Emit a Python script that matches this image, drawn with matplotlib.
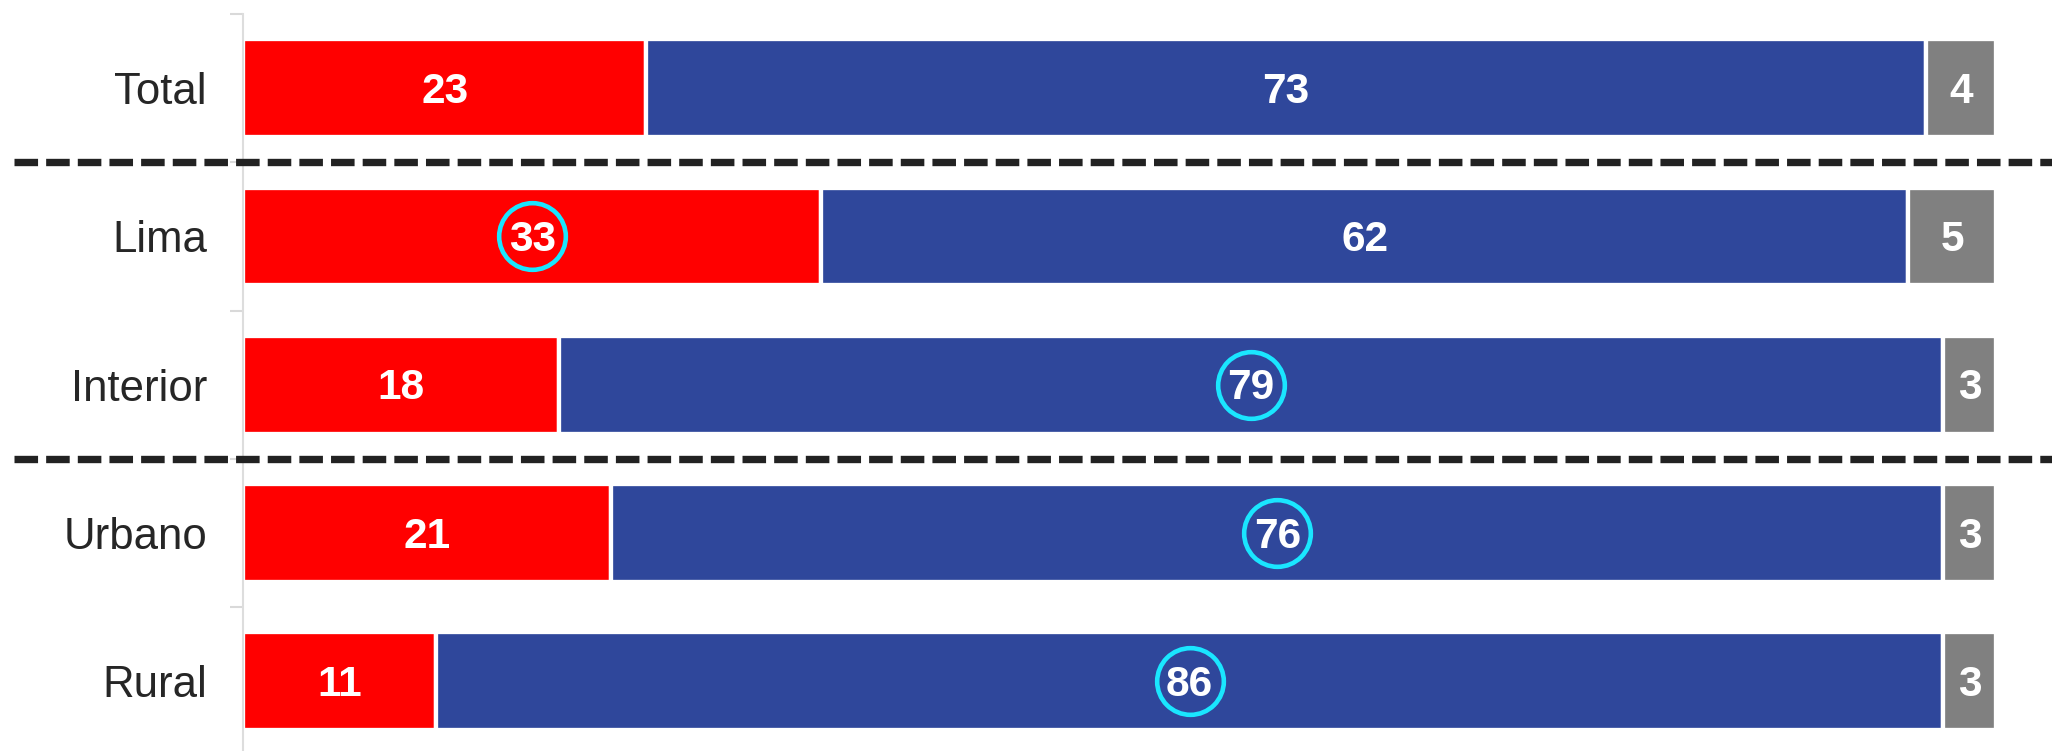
import matplotlib
matplotlib.use("Agg")
import matplotlib.pyplot as plt
from matplotlib.transforms import blended_transform_factory
from matplotlib.lines import Line2D
import numpy as np

plt.rcParams['font.family'] = ['Liberation Sans', 'DejaVu Sans']

categories = ["Total", "Lima", "Interior", "Urbano", "Rural"]
red_vals = [23, 33, 18, 21, 11]
blue_vals = [73, 62, 79, 76, 86]
gray_vals = [4, 5, 3, 3, 3]
# which segment label gets a highlight circle: None, 'red', 'blue'
highlight = [None, "red", "blue", "blue", "blue"]
separators_after = [0, 2]  # dashed separator after these rows

RED = "#FF0000"
BLUE = "#2F479B"
GRAY = "#808080"
CYAN = "#1AE6FF"

W, H = 2052, 751
fig = plt.figure(figsize=(W / 100, H / 100), dpi=100)
ax_left = 243 / W
ax_top = (H - 14) / H
ax_h = 741.5 / H
ax = fig.add_axes([ax_left, ax_top - ax_h, 1 - ax_left, ax_h])

y = np.arange(len(categories))
bh = 0.66
red = np.array(red_vals)
blue = np.array(blue_vals)
gray = np.array(gray_vals)

ax.barh(y, red, height=bh, color=RED, edgecolor="white", linewidth=3.1, zorder=2)
ax.barh(y, blue, left=red, height=bh, color=BLUE, edgecolor="white", linewidth=3.1, zorder=2)
ax.barh(y, gray, left=red + blue, height=bh, color=GRAY, edgecolor="white", linewidth=3.1, zorder=2)

for i in range(len(categories)):
    segs = [("red", 0, red[i]), ("blue", red[i], blue[i]), ("gray", red[i] + blue[i], gray[i])]
    for name, left, v in segs:
        cx = left + v / 2
        ax.annotate(f"{v}", (cx, y[i]), xytext=(0, -2.5), textcoords="offset points",
                    ha="center", va="center", color="white",
                    fontsize=30.5, fontweight="bold", zorder=4)
        if highlight[i] == name:
            ax.plot([cx], [y[i]], marker="o", ms=48, mfc="none", mec=CYAN,
                    mew=3.3, zorder=5, clip_on=False)

ax.set_xlim(0, (W - 243) / 17.53)
ax.set_ylim(len(categories) - 0.5, -0.5)

ax.set_yticks(y)
ax.set_yticklabels(categories, fontsize=31.5, color="#262626")
ax.tick_params(axis="y", which="major", length=0, pad=26)
ax.set_yticks(np.arange(-0.5, len(categories) + 0.5, 1.0), minor=True)
ax.tick_params(axis="y", which="minor", length=9.4, width=1.5, color="#d9d9d9")
ax.set_xticks([])

for s in ["top", "right", "bottom"]:
    ax.spines[s].set_visible(False)
ax.spines["left"].set_color("#dddddd")
ax.spines["left"].set_linewidth(1.5)

trans = blended_transform_factory(fig.transFigure, ax.transData)
for idx in separators_after:
    yy = idx + 0.5
    line = Line2D([14 / W, 1.0], [yy, yy], transform=trans, color="#222222",
                  linewidth=5.3, linestyle=(0, (3.2, 1.1)), zorder=6,
                  clip_on=False, solid_capstyle="butt", dash_capstyle="butt")
    fig.add_artist(line)

fig.savefig("out.png", dpi=100)
